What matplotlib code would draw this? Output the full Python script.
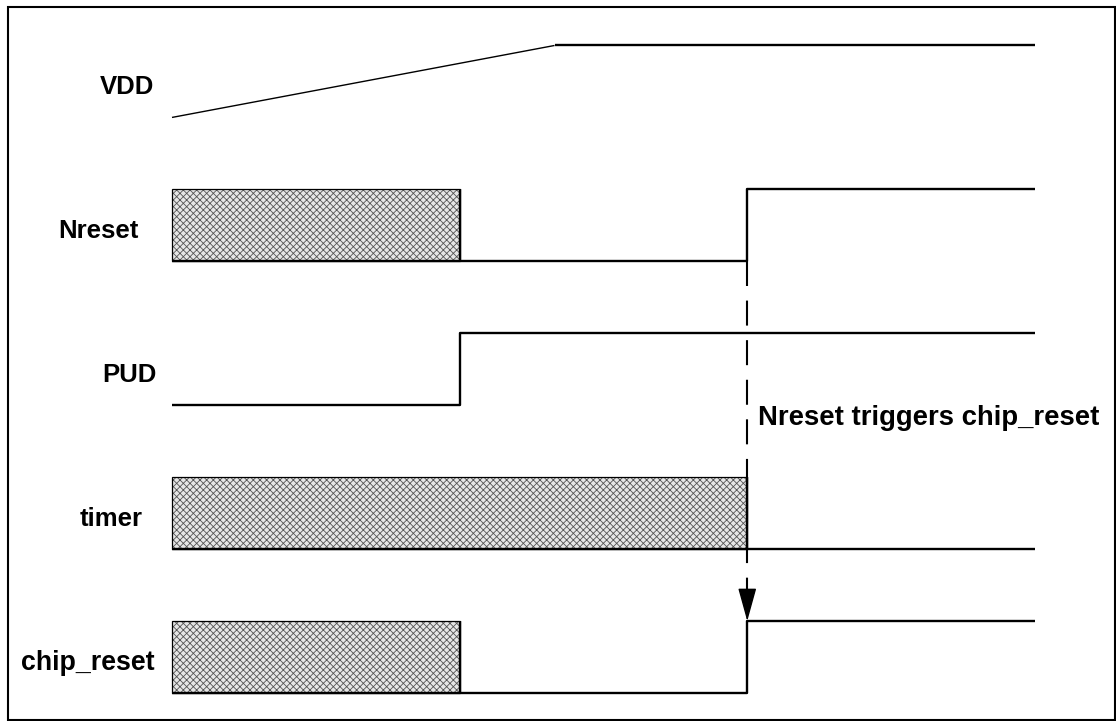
import matplotlib
matplotlib.use("Agg")
import matplotlib.pyplot as plt
from matplotlib.patches import Rectangle, FancyArrowPatch

# signal names, top to bottom
signals = ["VDD", "Nreset", "PUD", "timer", "chip_reset"]
label_x = [-0.25, -0.396, -0.243, -0.32, -0.525]
label_size = [18.5, 18.5, 18.5, 18.5, 19.3]

# time axis: 0 = start, 1 = PUD rises, 2 = Nreset rises, 3 = end
t_end = 3.0

# traces as (times, levels), level 1 = high, 0 = low
vdd_t, vdd_lv = [0, 1.33, 3], [0, 1, 1]
nreset_t, nreset_lv = [0, 2, 2, 3], [0, 0, 1, 1]
pud_t, pud_lv = [0, 1, 1, 3], [0, 0, 1, 1]
timer_t, timer_lv = [0, 3], [0, 0]
chip_t, chip_lv = [0, 2, 2, 3], [0, 0, 1, 1]
traces = [(vdd_t, vdd_lv), (nreset_t, nreset_lv), (pud_t, pud_lv),
          (timer_t, timer_lv), (chip_t, chip_lv)]

# undefined (hatched) intervals: row -> (start, stop)
unknown = {1: (0, 1), 3: (0, 2), 4: (0, 1)}

trigger_t = 2.0
note = "Nreset triggers chip_reset"


def level_y(row, lv):
    # high sits a quarter row above the row centre, low a quarter below
    return row + 0.25 - 0.5 * lv


plt.rcParams['font.family'] = ['Liberation Sans', 'DejaVu Sans']
plt.rcParams['hatch.linewidth'] = 0.6

fig = plt.figure(figsize=(11.16, 7.21), dpi=100)
ax = fig.add_axes([0, 0, 1, 1])
ax.set_xlim(-0.598, 3.282)
ax.set_ylim(4.444, -0.566)
ax.axis('off')

# frame around the whole diagram
fig.patches.append(Rectangle((8 / 1116, 1 / 721), 1107 / 1116, 713 / 721,
                             transform=fig.transFigure, fill=False,
                             edgecolor='black', lw=1.5))

for row, (name, (ts, lvs)) in enumerate(zip(signals, traces)):
    ys = [level_y(row, v) for v in lvs]
    if name == "VDD":
        # ramp is thinner than the flat part
        ax.plot(ts[:2], ys[:2], color='black', lw=1.0, solid_capstyle='butt')
        ax.plot(ts[1:], ys[1:], color='black', lw=1.7, solid_capstyle='butt')
    else:
        ax.plot(ts, ys, color='black', lw=1.7, solid_capstyle='butt')

    if row in unknown:
        t0, t1 = unknown[row]
        top = level_y(row, 1)
        ax.add_patch(Rectangle((t0, top), t1 - t0, 0.5, facecolor='#e6e6e6',
                               edgecolor='#555555', lw=0, hatch='xxxxx'))
        ax.add_patch(Rectangle((t0, top), t1 - t0, 0.5, fill=False,
                               edgecolor='black', lw=0.9))
        ax.vlines(t1, top, level_y(row, 0), color='black', lw=1.7)

    ax.text(label_x[row], row + 0.087, name, fontsize=label_size[row],
            fontweight='bold', ha='left', va='baseline')

# dashed causality arrow from Nreset rising edge to chip_reset rising edge
y_from = level_y(1, 0)
y_to = level_y(4, 1)
y_head = y_to - 0.202
ax.plot([trigger_t, trigger_t], [y_from, y_head], color='black', lw=1.5,
        dashes=(12, 7))
ax.add_patch(FancyArrowPatch((trigger_t, y_head), (trigger_t, y_to),
                             arrowstyle='-|>,head_length=21,head_width=5.8',
                             mutation_scale=1, shrinkA=0, shrinkB=0,
                             color='black', lw=1))

ax.text(2.037, 2.387, note, fontsize=19.8, fontweight='bold',
        ha='left', va='baseline')

fig.savefig("out.png", dpi=100)
